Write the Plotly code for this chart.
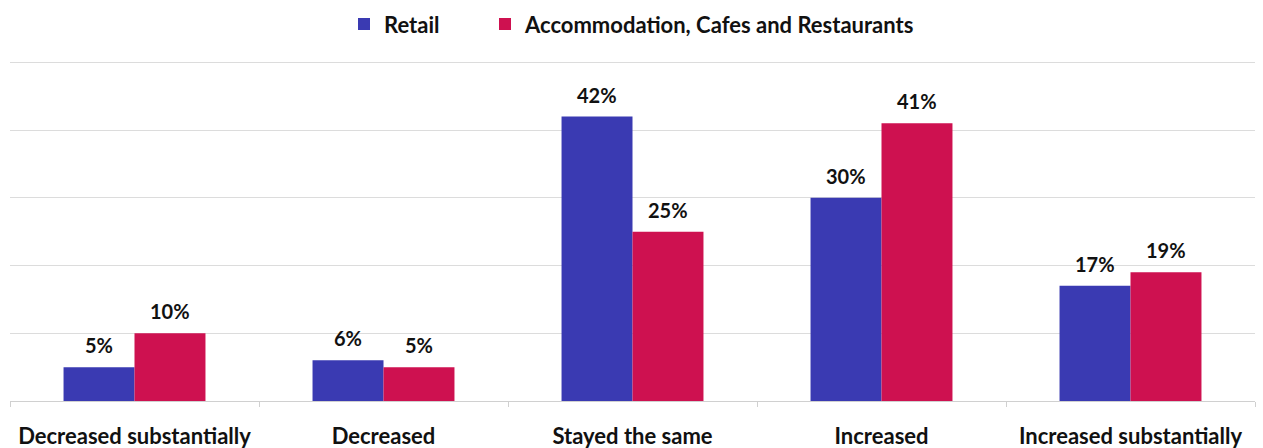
import plotly.graph_objects as go

categories = ["Decreased substantially", "Decreased", "Stayed the same", "Increased", "Increased substantially"]
retail = [5, 6, 42, 30, 17]
accommodation = [10, 5, 25, 41, 19]
series_names = ["Retail", "Accommodation, Cafes and Restaurants"]

BLUE = "#3A3AB2"
RED = "#CE1150"
FONT = "Lato, 'Open Sans', sans-serif"
BARGAP = 0.43

fig = go.Figure()
series = [(series_names[0], retail, BLUE, "legend"), (series_names[1], accommodation, RED, "legend2")]
for name, vals, color, leg in series:
    fig.add_trace(go.Bar(
        x=categories, y=vals, name=name, legend=leg,
        marker=dict(color=color, line=dict(width=0)),
    ))

# value labels above each bar, placed at the grouped bar centres
half = (1 - BARGAP) / 4
for k, (name, vals, color, leg) in enumerate(series):
    offset = -half if k == 0 else half
    for i, v in enumerate(vals):
        fig.add_annotation(x=i + offset, y=v, text=f"{v}%", showarrow=False,
                           yanchor="middle", yshift=22,
                           font=dict(family=FONT, size=20, color="#111111", weight="bold"))

legend_font = dict(size=22, weight="bold", color="#111111")
fig.update_layout(
    width=1263, height=448,
    margin=dict(l=10, r=8, t=61, b=47, autoexpand=False),
    paper_bgcolor="white", plot_bgcolor="white",
    barmode="group", bargap=BARGAP, bargroupgap=0,
    font=dict(family=FONT, color="#111111"),
    showlegend=True,
    legend=dict(orientation="h", x=344 / 1263, xanchor="left", xref="container",
                y=0.993, yref="container", yanchor="top", font=legend_font),
    legend2=dict(orientation="h", x=485 / 1263, xanchor="left", xref="container",
                 y=0.993, yref="container", yanchor="top", font=legend_font),
    xaxis=dict(showgrid=False, showline=True, linecolor="#d0d0d0", linewidth=1,
               ticks="outside", tickson="boundaries", ticklen=5, tickcolor="#d0d0d0",
               tickfont=dict(size=22, weight="bold", color="#111111"), ticklabelstandoff=16,
               automargin=False),
    yaxis=dict(range=[0, 50.2], tickvals=[10, 20, 30, 40, 50], showgrid=True,
               gridcolor="#dcdcdc", gridwidth=1,
               showticklabels=False, zeroline=False, showline=False, automargin=False),
)

fig.write_html("out.html")
